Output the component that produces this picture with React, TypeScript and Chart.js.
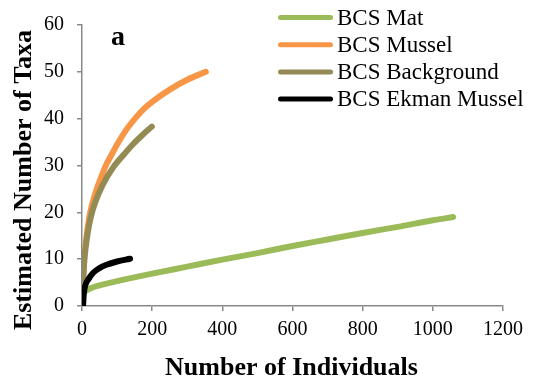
import React, { useEffect, useRef } from 'react';
import { Chart, registerables } from 'chart.js';

Chart.register(...registerables);

const SERIES_LABELS = ['BCS Mat', 'BCS Mussel', 'BCS Background', 'BCS Ekman Mussel'];
const SERIES_COLORS = ['#9BBB59', '#F79646', '#948A54', '#000000'];

const matX = [5, 25, 50, 100, 200, 300, 400, 500, 600, 700, 800, 900, 1000, 1058];
const matY = [3.0, 3.8, 4.4, 5.3, 6.9, 8.4, 9.9, 11.3, 12.8, 14.2, 15.6, 16.9, 18.3, 19.0];

const musselX = [1, 3, 6, 12, 18, 25, 40, 55, 68, 85, 100, 125, 151, 175, 200, 250, 300, 353];
const musselY = [1, 5, 10, 14.3, 17.6, 20.5, 24.5, 27.6, 30, 32.4, 34.5, 37.5, 40, 42, 43.6, 46.2, 48.3, 50];

const backgroundX = [1, 3, 7, 15, 25, 37, 60, 89, 120, 146, 175, 199];
const backgroundY = [1, 5, 10, 15, 19, 22, 26, 29.6, 32.4, 34.6, 36.7, 38.3];

const ekmanX = [3, 5, 9, 20, 32, 50, 70, 100, 137];
const ekmanY = [0, 2.5, 4.3, 5.9, 7.1, 8.1, 8.8, 9.5, 10.1];

const X_MIN = 0;
const X_MAX = 1200;
const X_STEP = 200;
const Y_MIN = 0;
const Y_MAX = 60;
const Y_STEP = 10;

const X_TITLE = 'Number of Individuals';
const Y_TITLE = 'Estimated Number of Taxa';
const PANEL_LABEL = 'a';

const FONT = '"Liberation Serif", "Times New Roman", Times, serif';
const AXIS_GRAY = '#898989';

const toPoints = (xs: number[], ys: number[]) => xs.map((x, i) => ({ x, y: ys[i] }));

const overlayPlugin = {
  id: 'overlay',
  afterDraw(chart: any) {
    const ctx = chart.ctx as CanvasRenderingContext2D;
    ctx.save();
    // legend
    ctx.font = `23px ${FONT}`;
    ctx.textBaseline = 'middle';
    ctx.textAlign = 'left';
    chart.data.datasets.forEach((ds: any, i: number) => {
      const y = 17.5 + i * 27.2;
      ctx.strokeStyle = ds.borderColor;
      ctx.lineWidth = 5;
      ctx.lineCap = 'round';
      ctx.beginPath();
      ctx.moveTo(280.5, y);
      ctx.lineTo(330.5, y);
      ctx.stroke();
      ctx.fillStyle = '#000';
      ctx.fillText(ds.label, 337, y + 1);
    });
    // panel label
    ctx.font = `bold 28px ${FONT}`;
    ctx.textBaseline = 'alphabetic';
    ctx.fillText(PANEL_LABEL, 111, 45);
    // x title
    ctx.font = `bold 26px ${FONT}`;
    ctx.textAlign = 'center';
    ctx.fillText(X_TITLE, 291.5, 375);
    // y title
    ctx.translate(31, 180);
    ctx.rotate(-Math.PI / 2);
    ctx.fillText(Y_TITLE, 0, 0);
    ctx.restore();
  },
};

export default function App() {
  const ref = useRef<HTMLCanvasElement | null>(null);

  useEffect(() => {
    document.body.style.margin = '0';
    const canvas = ref.current;
    if (!canvas) return;
    const xs = [matX, musselX, backgroundX, ekmanX];
    const ys = [matY, musselY, backgroundY, ekmanY];
    const chart = new Chart(canvas, {
      type: 'line',
      data: {
        datasets: SERIES_LABELS.map((label, i) => ({
          label,
          data: toPoints(xs[i], ys[i]),
          borderColor: SERIES_COLORS[i],
          backgroundColor: SERIES_COLORS[i],
          borderWidth: 6,
          pointRadius: 0,
          borderCapStyle: 'round',
          borderJoinStyle: 'round',
          cubicInterpolationMode: 'monotone',
          fill: false,
          order: SERIES_LABELS.length - 1 - i,
        })),
      },
      options: {
        responsive: false,
        animation: false,
        devicePixelRatio: 1,
        layout: { padding: { left: 0, top: 16, right: 31, bottom: 0 } },
        plugins: {
          legend: { display: false },
          tooltip: { enabled: false },
          title: { display: false },
        },
        scales: {
          x: {
            type: 'linear',
            min: X_MIN,
            max: X_MAX,
            ticks: {
              stepSize: X_STEP,
              color: '#000',
              font: { family: FONT, size: 20 },
              padding: 7,
              maxRotation: 0,
              callback: (v: any) => String(v),
            },
            grid: {
              drawOnChartArea: false,
              drawTicks: true,
              tickLength: 5,
              color: AXIS_GRAY,
              lineWidth: 1.5,
            },
            border: { display: true, color: AXIS_GRAY, width: 1.5 },
            afterFit: (scale: any) => {
              scale.height = 74;
            },
          },
          y: {
            type: 'linear',
            min: Y_MIN,
            max: Y_MAX,
            ticks: {
              stepSize: Y_STEP,
              color: '#000',
              font: { family: FONT, size: 20 },
              padding: 13,
              callback: (v: any) => String(v),
            },
            grid: {
              drawOnChartArea: false,
              drawTicks: true,
              tickLength: 5,
              color: AXIS_GRAY,
              lineWidth: 1.5,
            },
            border: { display: true, color: AXIS_GRAY, width: 1.5 },
            afterFit: (scale: any) => {
              scale.width = 82;
            },
          },
        },
      } as any,
      plugins: [overlayPlugin],
    });
    return () => chart.destroy();
  }, []);

  return (
    <div style={{ position: 'absolute', left: 0, top: 0, width: 534, height: 380, background: '#fff' }}>
      <canvas ref={ref} width={534} height={380} style={{ display: 'block' }} />
    </div>
  );
}
